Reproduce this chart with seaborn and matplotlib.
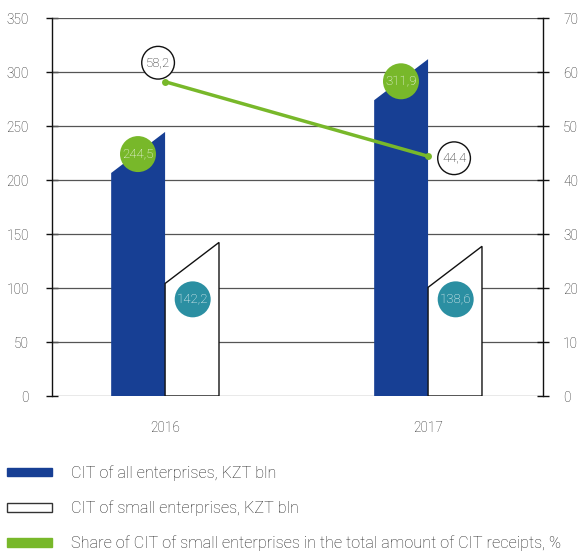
import matplotlib
matplotlib.use("Agg")
import matplotlib.pyplot as plt
from matplotlib.patches import Polygon, Patch
import seaborn as sns
import pandas as pd

years = ["2016", "2017"]
cit_all = [244.5, 311.9]
cit_small = [142.2, 138.6]
share = [58.2, 44.4]
series_names = ["CIT of all enterprises, KZT bln", "CIT of small enterprises, KZT bln"]
share_name = "Share of CIT of small enterprises in the total amount of CIT receipts, %"
left_ticks = [0, 50, 100, 150, 200, 250, 300, 350]
right_ticks = [0, 10, 20, 30, 40, 50, 60, 70]

BLUE = "#173f94"
GREEN = "#78b82a"
TEAL = "#2b8fa2"
TXT = "#222222"

sns.set_style("white")
plt.rcParams["font.family"] = ["Roboto", "DejaVu Sans"]
plt.rcParams["font.weight"] = "light"

df = pd.DataFrame({
    "year": years * 2,
    "series": [series_names[0]] * 2 + [series_names[1]] * 2,
    "value": cit_all + cit_small,
})

fig = plt.figure(figsize=(5.81, 5.54), dpi=100)
ax = fig.add_axes([52 / 581, 1 - 396 / 554, (543 - 52) / 581, (396 - 18) / 554])

sns.barplot(data=df, x="year", y="value", hue="series", hue_order=series_names,
            palette=[BLUE, "white"], width=0.41, legend=False, ax=ax, zorder=2)

slant = 38
patches = list(ax.patches)
for i, p in enumerate(patches):
    x0, w, h = p.get_x(), p.get_width(), p.get_height()
    is_all = i < 2
    poly = Polygon([(x0, 0), (x0, h - slant), (x0 + w, h), (x0 + w, 0)], closed=True,
                   facecolor=BLUE if is_all else "white",
                   edgecolor=BLUE if is_all else "#111111",
                   linewidth=0.0 if is_all else 1.0, zorder=3)
    p.set_visible(False)
    ax.add_patch(poly)

ax.set_ylim(0, 350)
ax.set_xlim(-0.43, 1.437)
ax.set_yticks(left_ticks)
ax.set_xlabel("")
ax.set_ylabel("")
for y in left_ticks:
    ax.axhline(y, color="#555555", lw=0.9, zorder=1)
for s in ["top", "right", "bottom"]:
    ax.spines[s].set_visible(False)
ax.spines["left"].set_color("#111111")
ax.spines["left"].set_linewidth(1.0)
ax.tick_params(axis="y", direction="inout", length=9, width=1, color="#111111",
               labelsize=9.8, labelcolor=TXT, pad=12)
ax.tick_params(axis="x", length=0, labelsize=9.8, labelcolor=TXT, pad=18)

# value circles on bars
for i in range(2):
    ax.text(i - 0.103, cit_all[i] - 20.5, f"{cit_all[i]:.1f}".replace(".", ","),
            ha="center", va="center", fontsize=9.5, color="white", zorder=6,
            bbox=dict(boxstyle="circle,pad=0.17", fc=GREEN, ec="none"))
    ax.text(i + 0.105, 89.5, f"{cit_small[i]:.1f}".replace(".", ","),
            ha="center", va="center", fontsize=9.5, color="white", zorder=6,
            bbox=dict(boxstyle="circle,pad=0.17", fc=TEAL, ec="none"))

ax2 = ax.twinx()
ax2.set_position(ax.get_position())
sns.lineplot(x=[0, 1], y=share, color=GREEN, lw=2.5, marker="o", markersize=5,
             markeredgewidth=0, ax=ax2, zorder=5)
ax2.set_ylim(0, 70)
ax2.set_yticks(right_ticks)
ax2.set_ylabel("")
for s in ["top", "left", "bottom"]:
    ax2.spines[s].set_visible(False)
ax2.spines["right"].set_color("#111111")
ax2.spines["right"].set_linewidth(1.0)
ax2.tick_params(axis="y", direction="inout", length=9, width=1, color="#111111",
                labelsize=9.8, labelcolor=TXT, pad=10)

offsets = [(-7, 19), (26, -2)]
for i in range(2):
    ax2.annotate(f"{share[i]:.1f}".replace(".", ","), (i, share[i]),
                 xytext=offsets[i], textcoords="offset pixels",
                 ha="center", va="center", fontsize=9.5, color=TXT, zorder=7,
                 bbox=dict(boxstyle="circle,pad=0.32", fc="white", ec="#111111", lw=1))

handles = [
    Patch(facecolor=BLUE, edgecolor=BLUE),
    Patch(facecolor="white", edgecolor="#333333", lw=1),
    Patch(facecolor=GREEN, edgecolor=GREEN),
]
labels = series_names + [share_name]
fig.legend(handles, labels, loc="upper left", bbox_to_anchor=(0.012, 1 - 465 / 554),
           frameon=False, fontsize=11.7, handlelength=2.75, handleheight=0.45,
           labelspacing=1.2, handletextpad=1.2, borderaxespad=0, borderpad=0,
           labelcolor=TXT)

fig.savefig("out.png", dpi=100)
